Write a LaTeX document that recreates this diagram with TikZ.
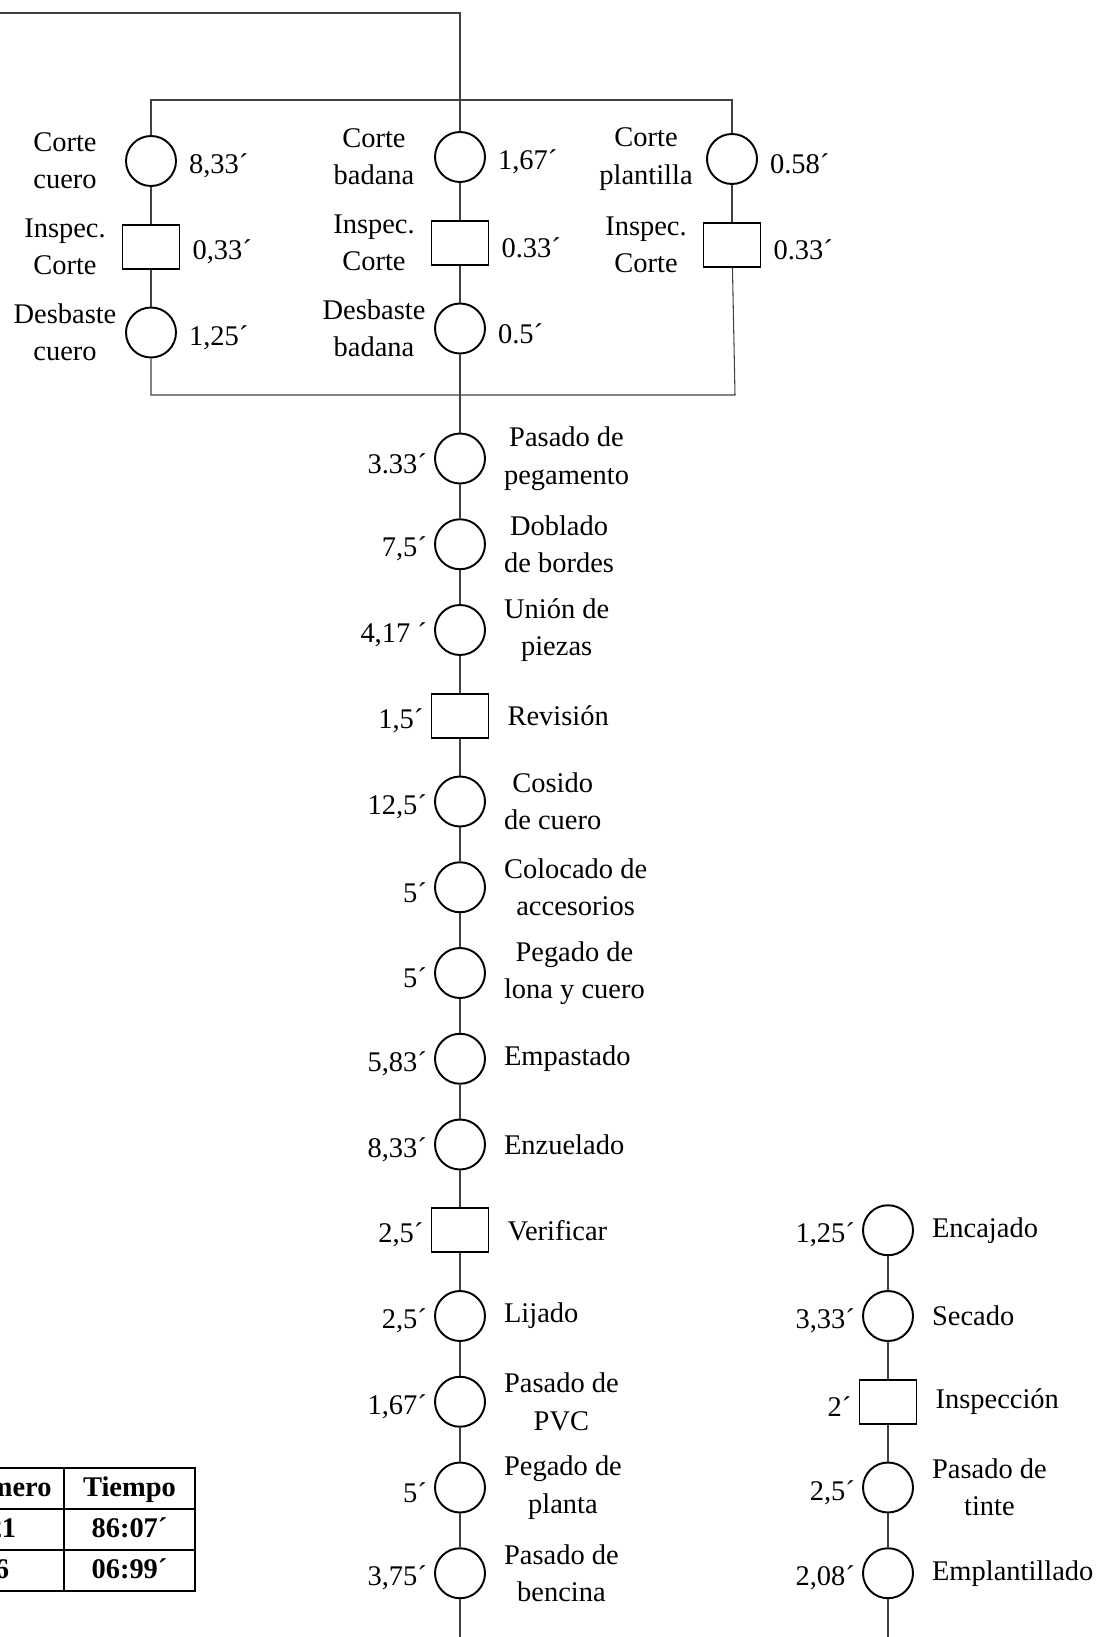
\documentclass[tikz,border=0pt]{standalone}
\usepackage{fontspec}
\setmainfont{Liberation Serif}
\usepackage{tikz}
\usetikzlibrary{
    positioning % colocación relativa de nodos
}
\newcommand{\letra}{\fontsize{16.2}{21.3}\selectfont}

\begin{document}
\begin{tikzpicture}[
    font=\letra,
    node distance=1.715cm,
    link/.style={
        draw=black!75,
        line width=0.6pt
    },
    oper/.style={
        on grid,
        circle,
        draw=black,
        line width=1.1pt,
        minimum size=1cm,
        inner sep=0pt
    },
    insp/.style={
        on grid,
        rectangle,
        draw=black,
        line width=1.1pt,
        minimum width=1.14cm,
        minimum height=0.88cm,
        inner sep=0pt
    },
    nombre/.style={
        align=center,
        inner sep=1pt
    },
    tiempo/.style={
        inner sep=1pt,
        yshift=-0.1cm
    },
    celda/.style={
        draw=black,
        line width=1.1pt,
        outer sep=0pt,
        minimum height=0.82cm,
        text height=0.9em,
        text depth=0pt,
        font=\letra\bfseries
    }
]

\useasboundingbox (0,0) rectangle (22.16,-32.74);
\clip (0,0) rectangle (22.16,-32.74);

% Cortes
\node[oper] (cortecuero) at (3.02,-3.22) {};
\node[oper] (cortebad) at (9.2,-3.14) {};
\node[oper] (corteplant) at (14.64,-3.18) {};

% Inspecciones de corte
\node[insp, below=of cortecuero] (inspcuero) {};
\node[insp, below=of cortebad] (inspbad) {};
\node[insp, below=of corteplant] (inspplant) {};

% Desbastes
\node[oper, below=of inspcuero] (desbcuero) {};
\node[oper, below=of inspbad] (desbbad) {};

% Nombres y tiempos de los cortes
\node[nombre, on grid, left=1.72cm of cortecuero] (ncortecuero) {Corte\\cuero};
\node[tiempo, right=0.2cm of cortecuero] (tcortecuero) {8,33´};
\node[nombre, on grid, left=1.72cm of inspcuero] (ninspcuero) {Inspec.\\Corte};
\node[tiempo, right=0.2cm of inspcuero] (tinspcuero) {0,33´};
\node[nombre, on grid, left=1.72cm of desbcuero] (ndesbcuero) {Desbaste\\cuero};
\node[tiempo, right=0.2cm of desbcuero] (tdesbcuero) {1,25´};

\node[nombre, on grid, left=1.72cm of cortebad] (ncortebad) {Corte\\badana};
\node[tiempo, right=0.2cm of cortebad] (tcortebad) {1,67´};
\node[nombre, on grid, left=1.72cm of inspbad] (ninspbad) {Inspec.\\Corte};
\node[tiempo, right=0.2cm of inspbad] (tinspbad) {0.33´};
\node[nombre, on grid, left=1.72cm of desbbad] (ndesbbad) {Desbaste\\badana};
\node[tiempo, right=0.2cm of desbbad] (tdesbbad) {0.5´};

\node[nombre, on grid, left=1.72cm of corteplant] (ncorteplant) {Corte\\plantilla};
\node[tiempo, right=0.2cm of corteplant] (tcorteplant) {0.58´};
\node[nombre, on grid, left=1.72cm of inspplant] (ninspplant) {Inspec.\\Corte};
\node[tiempo, right=0.2cm of inspplant] (tinspplant) {0.33´};

% Linea principal
\node[oper, below=2.6cm of desbbad] (pegamento) {};
\node[oper, below=of pegamento] (doblado) {};
\node[oper, below=of doblado] (union) {};
\node[insp, below=of union] (revision) {};
\node[oper, below=of revision] (cosido) {};
\node[oper, below=of cosido] (accesorios) {};
\node[oper, below=of accesorios] (lona) {};
\node[oper, below=of lona] (empastado) {};
\node[oper, below=of empastado] (enzuelado) {};
\node[insp, below=of enzuelado] (verificar) {};
\node[oper, below=of verificar] (lijado) {};
\node[oper, below=of lijado] (pvc) {};
\node[oper, below=of pvc] (planta) {};
\node[oper, below=of planta] (bencina) {};

\node[tiempo, left=0.1cm of pegamento] (tpegamento) {3.33´};
\node[nombre, right=0.32cm of pegamento] (npegamento) {Pasado de\\pegamento};
\node[tiempo, left=0.1cm of doblado] (tdoblado) {7,5´};
\node[nombre, right=0.32cm of doblado] (ndoblado) {Doblado\\de bordes};
\node[tiempo, left=0.1cm of union] (tunion) {4,17 ´};
\node[nombre, right=0.32cm of union] (nunion) {Unión de\\piezas};
\node[tiempo, left=0.1cm of revision] (trevision) {1,5´};
\node[nombre, right=0.32cm of revision] (nrevision) {Revisión};
\node[tiempo, left=0.1cm of cosido] (tcosido) {12,5´};
\node[nombre, right=0.32cm of cosido] (ncosido) {Cosido\\de cuero};
\node[tiempo, left=0.1cm of accesorios] (taccesorios) {5´};
\node[nombre, right=0.32cm of accesorios] (naccesorios) {Colocado de\\accesorios};
\node[tiempo, left=0.1cm of lona] (tlona) {5´};
\node[nombre, right=0.32cm of lona] (nlona) {Pegado de\\lona y cuero};
\node[tiempo, left=0.1cm of empastado] (tempastado) {5,83´};
\node[nombre, right=0.32cm of empastado] (nempastado) {Empastado};
\node[tiempo, left=0.1cm of enzuelado] (tenzuelado) {8,33´};
\node[nombre, right=0.32cm of enzuelado] (nenzuelado) {Enzuelado};
\node[tiempo, left=0.1cm of verificar] (tverificar) {2,5´};
\node[nombre, right=0.32cm of verificar] (nverificar) {Verificar};
\node[tiempo, left=0.1cm of lijado] (tlijado) {2,5´};
\node[nombre, right=0.32cm of lijado] (nlijado) {Lijado};
\node[tiempo, left=0.1cm of pvc] (tpvc) {1,67´};
\node[nombre, right=0.32cm of pvc] (npvc) {Pasado de\\PVC};
\node[tiempo, left=0.1cm of planta] (tplanta) {5´};
\node[nombre, right=0.32cm of planta] (nplanta) {Pegado de\\planta};
\node[tiempo, left=0.1cm of bencina] (tbencina) {3,75´};
\node[nombre, right=0.32cm of bencina] (nbencina) {Pasado de\\bencina};

% Linea de acabado
\node[oper, right=8.56cm of verificar] (encajado) {};
\node[oper, below=of encajado] (secado) {};
\node[insp, below=of secado] (inspeccion) {};
\node[oper, below=of inspeccion] (tinte) {};
\node[oper, below=of tinte] (emplantillado) {};

\node[tiempo, left=0.1cm of encajado] (tencajado) {1,25´};
\node[nombre, right=0.32cm of encajado] (nencajado) {Encajado};
\node[tiempo, left=0.1cm of secado] (tsecado) {3,33´};
\node[nombre, right=0.32cm of secado] (nsecado) {Secado};
\node[tiempo, left=0.1cm of inspeccion] (tinspeccion) {2´};
\node[nombre, right=0.32cm of inspeccion] (ninspeccion) {Inspección};
\node[tiempo, left=0.1cm of tinte] (ttinte) {2,5´};
\node[nombre, right=0.32cm of tinte] (ntinte) {Pasado de\\tinte};
\node[tiempo, left=0.1cm of emplantillado] (templantillado) {2,08´};
\node[nombre, right=0.32cm of emplantillado] (nemplantillado) {Emplantillado};

% Resumen
\node[celda, minimum width=2.62cm] (tiempohead) at (2.59,-29.77) {Tiempo};
\node[celda, minimum width=2.48cm, left=0pt of tiempohead] (numhead) {Número};
\node[celda, minimum width=2.62cm, below=0pt of tiempohead] (tiempo1) {86:07´};
\node[celda, minimum width=2.48cm, left=0pt of tiempo1] (num1) {21};
\node[celda, minimum width=2.62cm, below=0pt of tiempo1] (tiempo2) {06:99´};
\node[celda, minimum width=2.48cm, left=0pt of tiempo2] (num2) {6};

% Puntos libres
\coordinate (entrada) at (0,-0.26);
\coordinate (arriba) at (14.64,-2.0);
\coordinate (abajo) at (14.7,-7.9);
\coordinate (fondo) at (0,-32.74);

% Entrada y marco de cortes
\draw[link] (entrada) -| (cortebad);
\draw[link] (cortecuero) |- (arriba) -- (corteplant);
\draw[link] (desbcuero) |- (abajo) -- (inspplant);

% Columnas de corte
\draw[link] (cortecuero) -- (inspcuero);
\draw[link] (inspcuero) -- (desbcuero);
\draw[link] (cortebad) -- (inspbad);
\draw[link] (inspbad) -- (desbbad);
\draw[link] (corteplant) -- (inspplant);

% Flujo principal
\draw[link] (desbbad) -- (pegamento);
\draw[link] (pegamento) -- (doblado);
\draw[link] (doblado) -- (union);
\draw[link] (union) -- (revision);
\draw[link] (revision) -- (cosido);
\draw[link] (cosido) -- (accesorios);
\draw[link] (accesorios) -- (lona);
\draw[link] (lona) -- (empastado);
\draw[link] (empastado) -- (enzuelado);
\draw[link] (enzuelado) -- (verificar);
\draw[link] (verificar) -- (lijado);
\draw[link] (lijado) -- (pvc);
\draw[link] (pvc) -- (planta);
\draw[link] (planta) -- (bencina);
\draw[link] (bencina) -- (bencina |- fondo);

% Flujo de acabado
\draw[link] (encajado) -- (secado);
\draw[link] (secado) -- (inspeccion);
\draw[link] (inspeccion) -- (tinte);
\draw[link] (tinte) -- (emplantillado);
\draw[link] (emplantillado) -- (emplantillado |- fondo);

\end{tikzpicture}
\end{document}
